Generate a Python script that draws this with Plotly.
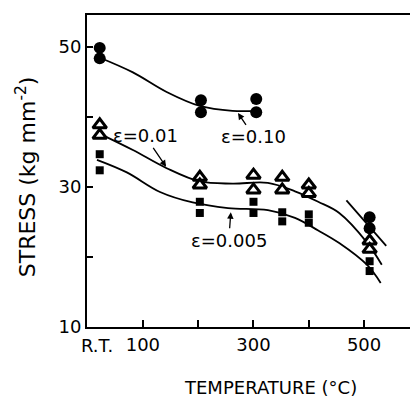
import plotly.graph_objects as go

# ---- data ----
RT = 22  # room temperature position (deg C)

# eps = 0.10 (filled circles)
c_T = [RT, RT, 205, 205, 305, 305, 510, 510]
c_S = [49.9, 48.4, 42.4, 40.7, 42.6, 40.7, 25.7, 24.1]

# eps = 0.01 (open triangles)
t_T = [RT, RT, 203, 203, 300, 300, 352, 352, 400, 400, 510, 510]
t_S = [38.9, 37.4, 31.4, 30.3, 31.7, 29.6, 31.4, 29.6, 30.3, 29.1, 22.3, 21.1]

# eps = 0.005 (filled squares)
s_T = [RT, RT, 203, 203, 300, 300, 352, 352, 400, 400, 510, 510]
s_S = [34.7, 32.4, 27.9, 26.3, 27.9, 26.3, 26.4, 25.1, 26.1, 24.9, 19.4, 18.0]

# fitted curves
cur10_T = [19, 82, 143, 203, 262, 305]
cur10_S = [48.6, 46.4, 43.6, 41.6, 40.9, 40.9]
cur10b_T = [468, 540]
cur10b_S = [28.1, 21.6]
cur01_T = [28, 82, 143, 203, 262, 326, 375, 417, 455, 505, 532]
cur01_S = [37.4, 35.3, 32.7, 30.8, 30.5, 30.6, 29.4, 27.9, 26.3, 22.1, 18.9]
cur005_T = [17, 71, 131, 190, 254, 326, 375, 417, 455, 505, 530]
cur005_S = [33.9, 32.1, 29.3, 27.8, 27.0, 26.7, 25.6, 23.8, 22.0, 18.9, 16.3]

# curve labels: point on the curve the arrow touches, label offset in px
label_text = ["ε=0.10", "ε=0.01", "ε=0.005"]
label_headT = [272, 142, 259]
label_headS = [40.6, 32.9, 26.4]
label_ax = [16, -21, -2]
label_ay = [24, -31, 28]

x_ticks = [100, 300, 500]
x_ticktext = ["100", "300", "500"]
x_minor = [200, 400]
y_ticks = [10, 30, 50]
y_ticktext = ["10", "30", "50"]
y_minor = [20, 40]

x_title = "TEMPERATURE (°C)"
y_title = "STRESS (kg mm<sup>-2</sup>)"

FONT = "DejaVu Sans"
BLACK = "black"

fig = go.Figure()

line_style = dict(color=BLACK, width=1.8)
for T, S, shape in [(cur10_T, cur10_S, "spline"), (cur10b_T, cur10b_S, "linear"),
                    (cur01_T, cur01_S, "spline"), (cur005_T, cur005_S, "spline")]:
    fig.add_trace(go.Scatter(x=T, y=S, mode="lines", line=dict(line_style, shape=shape),
                             hoverinfo="skip", showlegend=False))

fig.add_trace(go.Scatter(x=c_T, y=c_S, mode="markers", showlegend=False,
                         marker=dict(symbol="circle", size=12, color=BLACK)))
fig.add_trace(go.Scatter(x=t_T, y=t_S, mode="markers", showlegend=False,
                         marker=dict(symbol="triangle-up", size=12, color="white",
                                     line=dict(color=BLACK, width=3))))
fig.add_trace(go.Scatter(x=s_T, y=s_S, mode="markers", showlegend=False,
                         marker=dict(symbol="square", size=8, color=BLACK)))

ann = []
for txt, x, y, ax, ay in zip(label_text, label_headT, label_headS, label_ax, label_ay):
    ann.append(dict(x=x, y=y, ax=ax, ay=ay, text=txt, showarrow=True,
                    arrowhead=2, arrowsize=1, arrowwidth=1.3, arrowcolor=BLACK,
                    font=dict(family=FONT, size=18, color=BLACK)))
# R.T. tick label
ann.append(dict(x=17, y=0, xref="x", yref="paper", yanchor="top", yshift=-6,
                text="R.T.", showarrow=False, font=dict(family=FONT, size=18, color=BLACK)))
# axis titles
ann.append(dict(x=0.567, y=0, xref="paper", yref="paper", yanchor="middle", yshift=-60,
                text=x_title, showarrow=False,
                font=dict(family=FONT, size=18, color=BLACK)))
ann.append(dict(x=0, y=0.48, xref="paper", yref="paper", xanchor="center", xshift=-61,
                text=y_title, textangle=-90, showarrow=False,
                font=dict(family=FONT, size=22, color=BLACK)))

tick_common = dict(ticks="inside", tickwidth=1.5, tickcolor=BLACK,
                   showline=True, linecolor=BLACK, linewidth=2,
                   showgrid=False, zeroline=False,
                   tickfont=dict(family=FONT, size=18, color=BLACK))

fig.update_layout(
    width=411, height=399,
    margin=dict(l=87, r=1, t=15, b=72),
    paper_bgcolor="white", plot_bgcolor="white",
    font=dict(family=FONT, size=18, color=BLACK),
    annotations=ann,
    xaxis=dict(range=[-1, 583], tickvals=x_ticks, ticktext=x_ticktext, ticklen=7,
               mirror=True,
               minor=dict(tickvals=x_minor, ticks="inside", ticklen=7, tickwidth=1.5,
                          tickcolor=BLACK, showgrid=False),
               **tick_common),
    yaxis=dict(range=[10, 54.6], tickvals=y_ticks, ticktext=y_ticktext, ticklen=6,
               mirror=False,
               minor=dict(tickvals=y_minor, ticks="inside", ticklen=6, tickwidth=1.5,
                          tickcolor=BLACK, showgrid=False),
               **tick_common),
)

fig.write_html("out.html")
